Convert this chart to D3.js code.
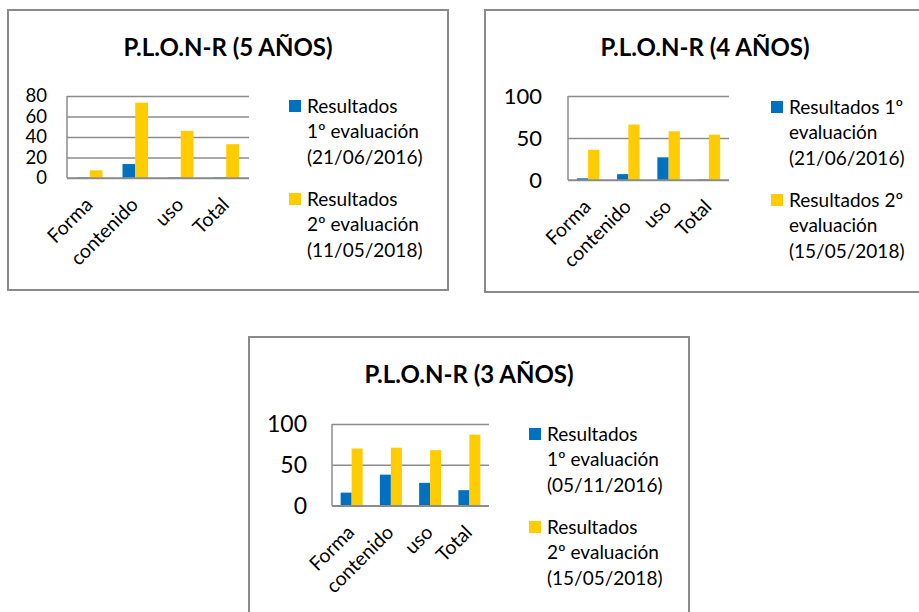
<!DOCTYPE html>
<html>
<head>
<meta charset="utf-8">
<script src="https://cdn.jsdelivr.net/npm/d3@7"></script>
<style>
  html, body { margin: 0; padding: 0; background: #fff; }
  svg { display: block; font-family: Lato, "Open Sans", sans-serif; }
</style>
</head>
<body>
<svg id="chart" width="919" height="612"></svg>
<script>
// ---- DATA ----
const categories = ["Forma", "contenido", "uso", "Total"];

const title5 = "P.L.O.N-R (5 AÑOS)";
const eval1_5 = [0.5, 13.6, 0.5, 0.5];
const eval2_5 = [7.5, 73.5, 46, 33];
const ticks5 = [0, 20, 40, 60, 80];
const legend5 = [
  ["Resultados", "1º evaluación", "(21/06/2016)"],
  ["Resultados", "2º evaluación", "(11/05/2018)"]
];

const title4 = "P.L.O.N-R (4 AÑOS)";
const eval1_4 = [2, 7, 27, 0.5];
const eval2_4 = [36, 66, 58, 54];
const ticks4 = [0, 50, 100];
const legend4 = [
  ["Resultados 1º", "evaluación", "(21/06/2016)"],
  ["Resultados 2º", "evaluación", "(15/05/2018)"]
];

const title3 = "P.L.O.N-R (3 AÑOS)";
const eval1_3 = [16, 38, 28, 19];
const eval2_3 = [70, 71, 68, 87];
const ticks3 = [0, 50, 100];
const legend3 = [
  ["Resultados", "1º evaluación", "(05/11/2016)"],
  ["Resultados", "2º evaluación", "(15/05/2018)"]
];

const seriesColors = ["#0070C0", "#FFCC00"];

// ---- LAYOUT ----
const panels = [
  { title: title5, s1: eval1_5, s2: eval2_5, ticks: ticks5, legend: legend5,
    box: [8, 10, 440, 280], titleY: 56,
    plot: { x0: 67, x1: 249, yTop: 96, yZero: 178 }, tickX: 47, tickSize: 18.5,
    leg: { x: 289, y1: 106, y2: 199, lh: 25.5 } },
  { title: title4, s1: eval1_4, s2: eval2_4, ticks: ticks4, legend: legend4,
    box: [485, 10, 440, 282], titleY: 56,
    plot: { x0: 568, x1: 729, yTop: 96, yZero: 180 }, tickX: 542, tickSize: 22,
    leg: { x: 771, y1: 107, y2: 200, lh: 25.5 } },
  { title: title3, s1: eval1_3, s2: eval2_3, ticks: ticks3, legend: legend3,
    box: [249, 337, 440, 280], titleY: 383,
    plot: { x0: 332, x1: 489, yTop: 424, yZero: 505.7 }, tickX: 307, tickSize: 23,
    leg: { x: 529, y1: 434, y2: 527, lh: 25.5 } }
];

const svg = d3.select("#chart");
const gridColor = "#8c8c8c";

panels.forEach(p => {
  const g = svg.append("g");
  const [bx, by, bw, bh] = p.box;
  g.append("rect")
    .attr("x", bx).attr("y", by).attr("width", bw).attr("height", bh)
    .attr("fill", "#fff").attr("stroke", "#8a8a8a").attr("stroke-width", 2);

  g.append("text")
    .attr("x", bx + bw / 2).attr("y", p.titleY)
    .attr("text-anchor", "middle")
    .attr("font-weight", "bold").attr("font-size", 24).attr("fill", "#000")
    .text(p.title);

  const x = d3.scaleBand().domain(categories).range([p.plot.x0, p.plot.x1]).padding(0);
  const xs = d3.scaleBand().domain([0, 1])
    .range([x.bandwidth() * 0.22, x.bandwidth() * 0.78]).padding(0);
  const y = d3.scaleLinear().domain([0, d3.max(p.ticks)]).range([p.plot.yZero, p.plot.yTop]);

  // gridlines + tick labels
  const yAxis = d3.axisLeft(y).tickValues(p.ticks)
    .tickSize(-(p.plot.x1 - p.plot.x0)).tickPadding(p.plot.x0 - p.tickX);
  const ya = g.append("g").attr("transform", `translate(${p.plot.x0},0)`).call(yAxis);
  ya.select(".domain").remove();
  ya.selectAll(".tick line").attr("stroke", gridColor).attr("stroke-width", 1.5);
  ya.selectAll(".tick text").attr("font-size", p.tickSize).attr("fill", "#000")
    .attr("font-family", "Lato, sans-serif");

  // left axis line
  g.append("line")
    .attr("x1", p.plot.x0).attr("x2", p.plot.x0)
    .attr("y1", y(d3.max(p.ticks))).attr("y2", y(0))
    .attr("stroke", gridColor).attr("stroke-width", 1.5);

  // bars
  [p.s1, p.s2].forEach((vals, si) => {
    g.append("g").selectAll("rect").data(vals).join("rect")
      .attr("x", (d, i) => x(categories[i]) + xs(si))
      .attr("width", xs.bandwidth())
      .attr("y", d => y(d))
      .attr("height", d => y(0) - y(d))
      .attr("fill", seriesColors[si]);
  });

  // zero line on top
  g.append("line")
    .attr("x1", p.plot.x0).attr("x2", p.plot.x1)
    .attr("y1", y(0)).attr("y2", y(0))
    .attr("stroke", gridColor).attr("stroke-width", 1.5);

  // x labels
  g.append("g").selectAll("text").data(categories).join("text")
    .attr("transform", d => `translate(${x(d) + x.bandwidth() / 2 + 4},${y(0) + 28}) rotate(-45)`)
    .attr("text-anchor", "end")
    .attr("font-size", 19.5).attr("fill", "#000")
    .text(d => d);

  // legend
  [p.leg.y1, p.leg.y2].forEach((ly, li) => {
    g.append("rect")
      .attr("x", p.leg.x).attr("y", ly - 6).attr("width", 12).attr("height", 12)
      .attr("fill", seriesColors[li]);
    const t = g.append("text").attr("font-size", 19).attr("fill", "#000");
    p.legend[li].forEach((line, k) => {
      t.append("tspan")
        .attr("x", p.leg.x + 18)
        .attr("y", ly + k * p.leg.lh)
        .attr("dy", "0.35em")
        .text(line);
    });
  });
});
</script>
</body>
</html>
